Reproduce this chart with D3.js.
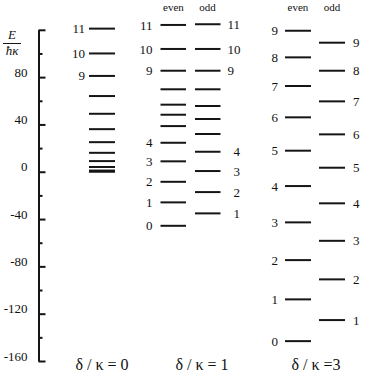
<!DOCTYPE html>
<html><head><meta charset="utf-8">
<script src="https://cdn.jsdelivr.net/npm/d3@7"></script>
</head>
<body style="margin:0;background:#fff">
<svg id="c" width="365" height="375"></svg>
<script>
// Energy levels E/ħκ
const levels0 = [0, 1, 4, 9, 16, 25, 36, 49, 64, 81, 100, 121];          // δ/κ = 0, n = 0..11
const even1 = [-45.7, -25.9, -8.5, 8.8, 24.5, 38.6, 48.2, 56.7, 69.7, 85.4, 103.8, 124.1]; // n = 0..11
const odd1 = [-35.2, -17.2, 0.6, 16.9, 31.9, 44.6, 55.6, 69.7, 85.4, 103.8, 124.7];         // n = 1..11
const even3 = [-143.2, -107.9, -74.7, -42.8, -12.1, 17.8, 46.0, 72.5, 96.7, 119.2];         // n = 0..9
const odd3 = [-125.4, -91.0, -58.4, -26.7, 3.4, 31.6, 59.5, 85.4, 109.1];                   // n = 1..9
const labels0 = [9, 10, 11];
const labelsEven1 = [0, 1, 2, 3, 4, 9, 10, 11];
const labelsOdd1 = [1, 2, 3, 4, 9, 10, 11];
const majorTicks = [-160, -120, -80, -40, 0, 40, 80, 120];
const tickLabels = ["-160", "-120", "-80", "-40", "0", "40", "80", ""];
const minorTicks = [-140, -100, -60, -20, 20, 60, 100];
const panelTitles = ["δ / κ = 0", "δ / κ = 1", "δ / κ =3"];

const FONT = "Liberation Serif";
const svg = d3.select("#c");
const y = d3.scaleLinear().domain([-160, 120]).range([361, 29.8]);
const ink = "#151515";

// axis
const axisX = 38.5;
const ax = svg.append("g").attr("transform", `translate(${axisX},0)`);
ax.call(d3.axisLeft(y).tickValues(majorTicks).tickSizeInner(-7).tickSizeOuter(0).tickPadding(11)
  .tickFormat((d, i) => tickLabels[i]));
ax.attr("font-family", FONT).attr("font-size", 13);
ax.selectAll("path.domain").attr("stroke", ink).attr("stroke-width", 2);
ax.selectAll(".tick line").attr("stroke", ink).attr("stroke-width", 2);
ax.selectAll(".tick text").attr("font-size", 13).attr("font-family", FONT).attr("fill", "#111")
  .attr("transform", "translate(0,-5)");
const ax2 = svg.append("g").attr("transform", `translate(${axisX},0)`);
ax2.call(d3.axisLeft(y).tickValues(minorTicks).tickSizeInner(-4).tickSizeOuter(0).tickFormat(""));
ax2.select("path.domain").remove();
ax2.selectAll(".tick line").attr("stroke", ink).attr("stroke-width", 2);

// E / ħκ label
const lab = svg.append("g");
lab.append("text").attr("x", 12).attr("y", 39).attr("text-anchor", "middle").attr("font-size", 13)
  .attr("font-family", FONT).attr("font-style", "italic").attr("fill", "#111").text("E");
lab.append("line").attr("x1", 3).attr("x2", 21).attr("y1", 43.5).attr("y2", 43.5).attr("stroke", ink).attr("stroke-width", 1);
lab.append("text").attr("x", 12).attr("y", 55).attr("text-anchor", "middle").attr("font-size", 13)
  .attr("font-family", FONT).attr("font-style", "italic").attr("fill", "#111").text("ħκ");

function drawLevels(vals, startN, x0, x1, labelSet, side, gap, extraGap) {
  const g = svg.append("g");
  const data = vals.map((v, i) => ({ n: i + startN, v }));
  g.selectAll("line").data(data).join("line")
    .attr("x1", x0).attr("x2", x1)
    .attr("y1", d => y(d.v)).attr("y2", d => y(d.v))
    .attr("stroke", ink).attr("stroke-width", 2);
  const ld = data.filter(d => labelSet === null || labelSet.includes(d.n));
  g.selectAll("text").data(ld).join("text")
    .attr("x", d => side === "left" ? x0 - gap : x1 + gap + (extraGap && d.n < 9 ? extraGap : 0))
    .attr("y", d => y(d.v))
    .attr("dy", "0.35em")
    .attr("text-anchor", side === "left" ? "end" : "start")
    .attr("font-family", FONT)
    .attr("font-size", 13)
    .attr("fill", "#111")
    .text(d => d.n);
}

drawLevels(levels0, 0, 89, 115, labels0, "left", 4, 0);
drawLevels(even1, 0, 160.5, 186, labelsEven1, "left", 8, 0);
drawLevels(odd1, 1, 195, 220.5, labelsOdd1, "right", 7, 6);
drawLevels(even3, 0, 285, 311, null, "left", 7, 0);
drawLevels(odd3, 1, 319, 345, null, "right", 8, 0);

// headers
const hdr = [["even", 173.5], ["odd", 207.5], ["even", 298], ["odd", 332]];
svg.append("g").selectAll("text").data(hdr).join("text")
  .attr("x", d => d[1]).attr("y", 11).attr("text-anchor", "middle")
  .attr("font-family", FONT).attr("font-size", 11).attr("fill", "#111").text(d => d[0]);

// panel titles
const tx = [102, 202, 316];
svg.append("g").selectAll("text").data(panelTitles).join("text")
  .attr("x", (d, i) => tx[i]).attr("y", 370).attr("text-anchor", "middle")
  .attr("font-family", FONT).attr("font-size", 16).attr("fill", "#111").text(d => d);
</script></body></html>
